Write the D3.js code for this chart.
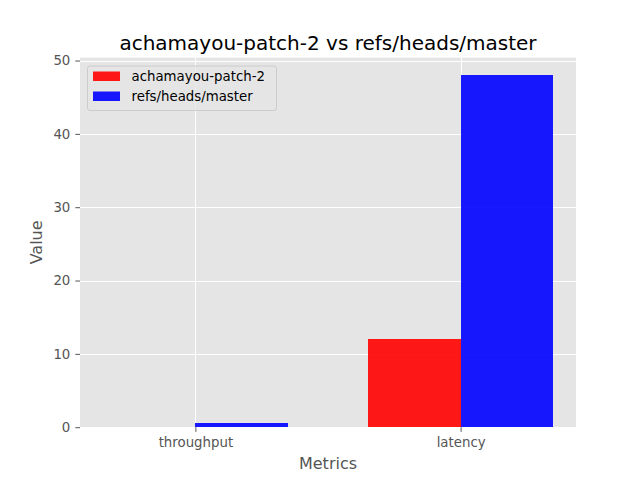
<!DOCTYPE html>
<html><head><meta charset="utf-8">
<script src="https://cdn.jsdelivr.net/npm/d3@7"></script>
<style>body{margin:0;background:#fff}svg{display:block}text{font-family:"DejaVu Sans",sans-serif}</style>
</head><body>
<script>
const categories = ["throughput", "latency"];
const seriesNames = ["achamayou-patch-2", "refs/heads/master"];
const seriesA = [0, 12];
const seriesB = [0.55, 48];
const yTicks = [0, 10, 20, 30, 40, 50];
const colors = ["rgba(255,0,0,0.9)", "rgba(0,0,255,0.9)"];

const W = 640, H = 480;
const m = {left: 80, right: 576, top: 57.6, bottom: 427.2};
const bw = 0.35;
const svg = d3.select("body").append("svg").attr("width", W).attr("height", H);

const x = d3.scaleLinear().domain([-0.26, 1.61]).range([m.left, m.right]);
const y = d3.scaleLinear().domain([0, 50.4]).range([m.bottom, m.top]);

svg.append("rect").attr("x", m.left).attr("y", m.top).attr("width", m.right - m.left)
  .attr("height", m.bottom - m.top).attr("fill", "#E5E5E5");

// grid
const g = svg.append("g");
yTicks.forEach(t => g.append("line").attr("x1", m.left).attr("x2", m.right)
  .attr("y1", Math.round(y(t)) + 0.5).attr("y2", Math.round(y(t)) + 0.5).attr("stroke", "#fff").attr("stroke-width", 1));
categories.forEach((c, i) => g.append("line").attr("x1", Math.round(x(i + bw / 2)) + 0.5).attr("x2", Math.round(x(i + bw / 2)) + 0.5)
  .attr("y1", m.top).attr("y2", m.bottom).attr("stroke", "#fff").attr("stroke-width", 1));

// bars
[seriesA, seriesB].forEach((s, k) => {
  svg.append("g").attr("shape-rendering", "crispEdges").selectAll("rect").data(s).join("rect")
    .attr("x", (d, i) => x(i - bw / 2 + k * bw))
    .attr("width", x(bw) - x(0))
    .attr("y", d => y(d))
    .attr("height", d => y(0) - y(d))
    .attr("fill", colors[k]);
});

// axes
const xAxis = d3.axisBottom(x).tickValues(categories.map((c, i) => i + bw / 2))
  .tickFormat((d, i) => categories[i]).tickSize(4.67).tickPadding(5.5);
const gx = svg.append("g").attr("transform", `translate(0,${m.bottom})`).call(xAxis);
gx.select(".domain").remove();
gx.selectAll("line").attr("stroke", "#555555");
gx.selectAll("text").attr("fill", "#555555").attr("font-size", "13.33px");

const yAxis = d3.axisLeft(y).tickValues(yTicks).tickSize(4.67).tickPadding(5);
const gy = svg.append("g").attr("transform", `translate(${m.left},0)`).call(yAxis);
gy.select(".domain").remove();
gy.selectAll("line").attr("stroke", "#555555");
gy.selectAll("text").attr("fill", "#555555").attr("font-size", "13.33px");

// labels
svg.append("text").attr("x", (m.left + m.right) / 2).attr("y", 49.5).attr("text-anchor", "middle")
  .attr("font-size", "20px").attr("fill", "#000").text(seriesNames[0] + " vs " + seriesNames[1]);
svg.append("text").attr("x", (m.left + m.right) / 2).attr("y", 469).attr("text-anchor", "middle")
  .attr("font-size", "16px").attr("fill", "#555555").text("Metrics");
svg.append("text").attr("transform", `translate(42,${(m.top + m.bottom) / 2}) rotate(-90)`)
  .attr("text-anchor", "middle").attr("font-size", "16px").attr("fill", "#555555").text("Value");

// legend
const lg = svg.append("g");
lg.append("rect").attr("x", 87.5).attr("y", 66).attr("width", 189).attr("height", 44.5)
  .attr("rx", 2.5).attr("fill", "rgba(229,229,229,0.8)").attr("stroke", "#CCCCCC").attr("stroke-width", 1);
seriesNames.forEach((n, k) => {
  lg.append("rect").attr("x", 93).attr("y", 71.5 + k * 20).attr("width", 27).attr("height", 9.5).attr("fill", colors[k]);
  lg.append("text").attr("x", 131.5).attr("y", 81 + k * 20).attr("font-size", "13.33px").attr("fill", "#000").text(n);
});
</script>
</body></html>
